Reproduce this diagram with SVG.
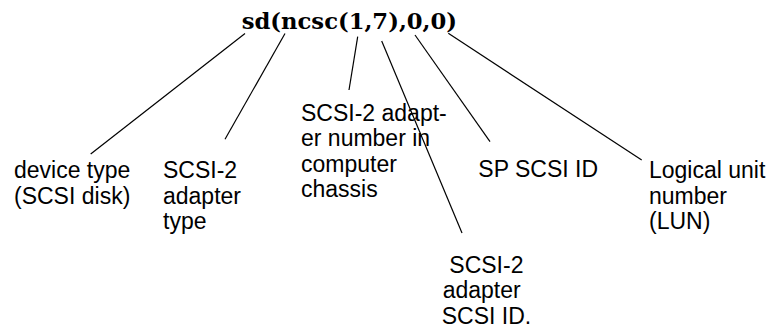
<svg xmlns="http://www.w3.org/2000/svg" width="772" height="330" viewBox="0 0 772 330">
<style>
.t{font-family:"Liberation Sans",Arial,sans-serif;font-size:23px;fill:#000}
.h{font-family:"DejaVu Serif",serif;font-weight:bold;font-size:22.7px;fill:#000}
.c line{stroke:#000;stroke-width:1.2;fill:none}
</style>
<rect width="772" height="330" fill="#fff"/>
<g id="title"><text class="h" x="241.7" y="29.3">sd(ncsc(1,7),0,0)</text></g>
<g class="c" id="connectors">
<line x1="245" y1="33.5" x2="90.7" y2="154"/>
<line x1="285" y1="33.5" x2="225" y2="139.3"/>
<line x1="357.7" y1="36.7" x2="349" y2="90"/>
<line x1="381.7" y1="41" x2="462" y2="233"/>
<line x1="415" y1="35" x2="490" y2="141.7"/>
<line x1="448.3" y1="33.3" x2="641.7" y2="160"/>
</g>
<g id="device-type"><text class="t" x="14" y="178">device type</text><text class="t" x="14" y="203.5">(SCSI disk)</text></g>
<g id="adapter-type"><text class="t" x="163" y="178">SCSI-2</text><text class="t" x="163" y="203.5">adapter</text><text class="t" x="163" y="229">type</text></g>
<g id="adapter-number"><text class="t" x="301" y="120.5">SCSI-2 adapt-</text><text class="t" x="301" y="146">er number in</text><text class="t" x="301" y="171.5">computer</text><text class="t" x="301" y="197">chassis</text></g>
<g id="adapter-scsi-id"><text class="t" x="449.3" y="272.5">SCSI-2</text><text class="t" x="442.7" y="298">adapter</text><text class="t" x="441.7" y="323.5">SCSI ID.</text></g>
<g id="sp-scsi-id"><text class="t" x="478.3" y="177">SP SCSI ID</text></g>
<g id="lun"><text class="t" x="649" y="178">Logical unit</text><text class="t" x="649" y="203.5">number</text><text class="t" x="649" y="229">(LUN)</text></g>
</svg>
